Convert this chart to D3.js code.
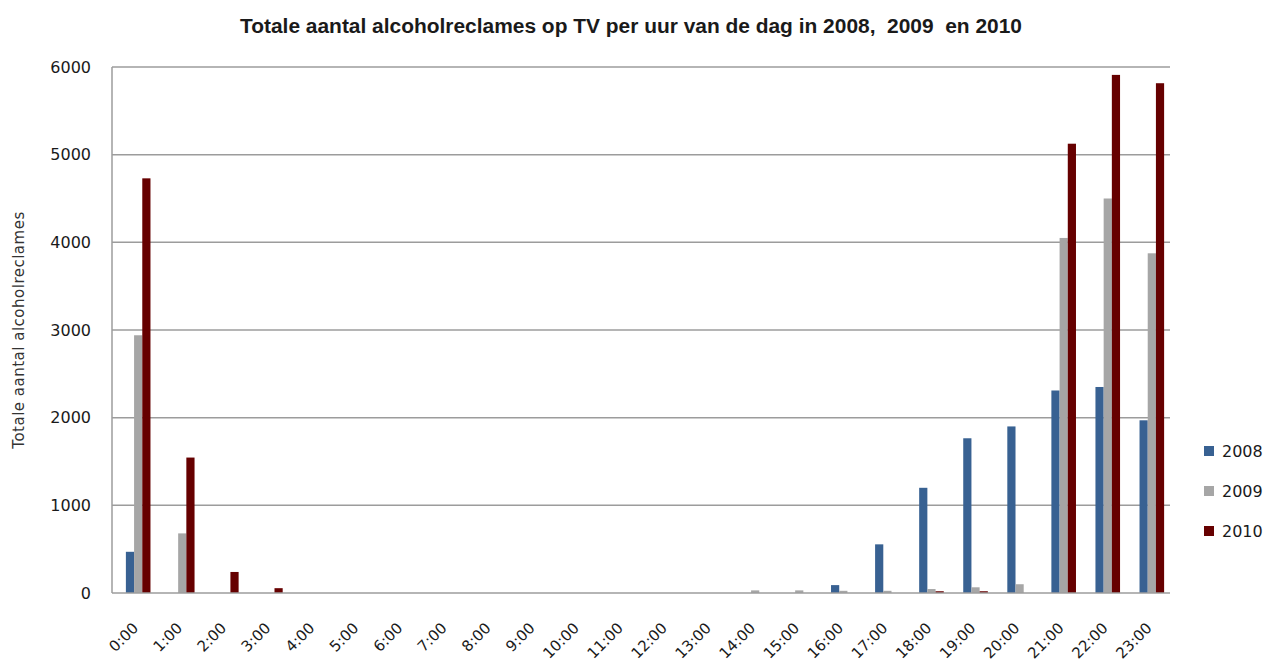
<!DOCTYPE html>
<html>
<head>
<meta charset="utf-8">
<script src="https://cdn.jsdelivr.net/npm/d3@7"></script>
<style>
  body { margin: 0; background: #fff; }
  svg text { font-family: "DejaVu Sans", Verdana, sans-serif; fill: #1a1a1a; }
</style>
</head>
<body>
<svg id="chart" width="1283" height="663"></svg>
<script>
const hours = ['0:00', '1:00', '2:00', '3:00', '4:00', '5:00', '6:00', '7:00', '8:00', '9:00', '10:00', '11:00',
    '12:00', '13:00', '14:00', '15:00', '16:00', '17:00', '18:00', '19:00', '20:00', '21:00', '22:00', '23:00'];
const series = ['2008', '2009', '2010'];
const values2008 = [470, 0, 0, 0, 0, 0, 0, 0, 0, 0, 0, 0, 0, 0, 0, 0, 90, 555, 1200, 1765, 1900, 2310, 2350, 1970];
const values2009 = [2940, 680, 0, 0, 0, 0, 0, 0, 0, 0, 0, 0, 0, 0, 30, 30, 25, 25, 45, 65, 100, 4050, 4500, 3875];
const values2010 = [4730, 1545, 240, 55, 0, 0, 0, 0, 0, 0, 0, 0, 0, 0, 0, 0, 0, 0, 20, 20, 0, 5125, 5910, 5815];
const yTicks = [0, 1000, 2000, 3000, 4000, 5000, 6000];
const colors = ['#386192', '#a6a6a6', '#660000'];

const title = 'Totale aantal alcoholreclames op TV per uur van de dag in 2008,  2009  en 2010';
const yTitle = 'Totale aantal alcoholreclames';

const rows = hours.map((h, i) => ({ hour: h, vals: [values2008[i], values2009[i], values2010[i]] }));

const svg = d3.select('#chart');
const plot = { left: 112, right: 1170, top: 67, bottom: 593 };

const x = d3.scaleBand().domain(hours)
    .range([plot.left, plot.right + 8])
    .paddingInner(0.442).paddingOuter(0.315);
const x1 = d3.scaleBand().domain(series).range([0, x.bandwidth()]);
const y = d3.scaleLinear().domain([0, 6000]).range([plot.bottom, plot.top]);

// gridlines
svg.append('g')
    .selectAll('line')
    .data(yTicks.filter(d => d > 0))
    .enter().append('line')
    .attr('x1', plot.left).attr('x2', plot.right)
    .attr('y1', d => y(d)).attr('y2', d => y(d))
    .attr('stroke', '#9c9c9c').attr('stroke-width', 1.5);

// y tick labels
svg.append('g')
    .selectAll('text')
    .data(yTicks)
    .enter().append('text')
    .attr('x', plot.left - 21)
    .attr('y', d => y(d))
    .attr('dy', '0.35em')
    .attr('text-anchor', 'end')
    .style('font-size', '16px')
    .text(d => d);

// bars
const groups = svg.append('g')
    .selectAll('g')
    .data(rows)
    .enter().append('g')
    .attr('transform', d => `translate(${x(d.hour)},0)`);

groups.selectAll('rect')
    .data(d => d.vals.map((v, i) => ({ key: series[i], v: v, i: i })))
    .enter().append('rect')
    .attr('x', d => x1(d.key))
    .attr('width', x1.bandwidth())
    .attr('y', d => y(d.v))
    .attr('height', d => y(0) - y(d.v))
    .attr('fill', d => colors[d.i]);

// axes lines
svg.append('line')
    .attr('x1', plot.left).attr('x2', plot.left)
    .attr('y1', y(6000)).attr('y2', y(0))
    .attr('stroke', '#9c9c9c').attr('stroke-width', 1.5);
svg.append('line')
    .attr('x1', plot.left).attr('x2', plot.right)
    .attr('y1', y(0)).attr('y2', y(0))
    .attr('stroke', '#9c9c9c').attr('stroke-width', 1.5);

// x labels
svg.append('g')
    .selectAll('text')
    .data(hours)
    .enter().append('text')
    .attr('text-anchor', 'end')
    .attr('transform', d => `translate(${x(d) + x.bandwidth() / 2 + 1},${y(0) + 36}) rotate(-45)`)
    .style('font-size', '15px')
    .text(d => d);

// title
svg.append('text')
    .attr('x', 631).attr('y', 33)
    .attr('text-anchor', 'middle')
    .attr('textLength', 782).attr('lengthAdjust', 'spacingAndGlyphs')
    .style('font-family', '"Liberation Sans Narrow", "Liberation Sans", sans-serif')
    .style('font-weight', 'bold')
    .style('font-size', '20px')
    .style('white-space', 'pre')
    .text(title);

// y title
svg.append('text')
    .attr('transform', 'translate(24,330) rotate(-90)')
    .attr('text-anchor', 'middle')
    .style('font-size', '15px')
    .style('letter-spacing', '0.5px')
    .style('fill', '#333')
    .text(yTitle);

// legend
const legend = svg.append('g')
    .selectAll('g')
    .data(series)
    .enter().append('g')
    .attr('transform', (d, i) => `translate(1204,${446 + i * 40})`);
legend.append('rect')
    .attr('width', 10).attr('height', 10)
    .attr('fill', (d, i) => colors[i]);
legend.append('text')
    .attr('x', 18).attr('y', 5)
    .attr('dy', '0.35em')
    .style('font-size', '16px')
    .text(d => d);
</script>
</body>
</html>
